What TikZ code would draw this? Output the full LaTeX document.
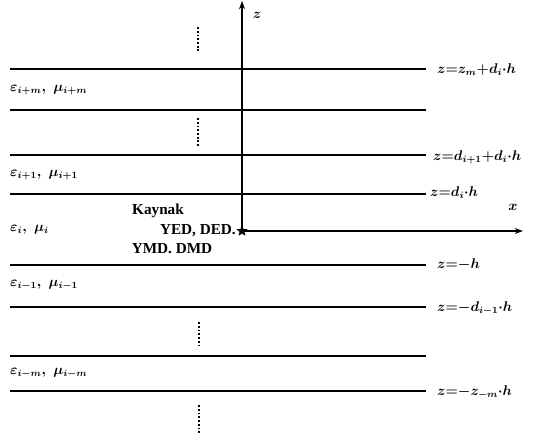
\documentclass[tikz,border=0pt]{standalone}
\usepackage{amsmath, amssymb}
\usepackage{fontspec}
\newfontfamily\srcfont{Liberation Serif}
\usetikzlibrary{
  arrows.meta,
  positioning,
  shapes.geometric,
}

\begin{document}
\begin{tikzpicture}[
    x=0.03cm, y=-0.03cm,
    layer/.style={draw=black, line width=1.5pt},
    axis/.style={draw=black, line width=1.6pt, -{Stealth[length=7pt, width=5pt]}},
    vdots/.style={draw=black, line width=1.6pt, dash pattern=on 1.6pt off 1.6pt},
    rlabel/.style={anchor=west, inner sep=0pt, font=\large\boldmath},
    llabel/.style={anchor=west, inner sep=0pt, font=\large\boldmath},
    srctext/.style={inner sep=0pt, font=\fontsize{13}{15}\selectfont\srcfont\bfseries},
  ]
  \useasboundingbox (0,0) rectangle (534,441);

  % layer boundaries
  \foreach \yy in {69,110,155,194,265,307,356,391}
    \draw[layer] (10,\yy) -- (426,\yy);

  % axes
  \node[star, star points=5, star point ratio=2.3, fill=black, inner sep=0pt,
        minimum size=10pt] (src) at (242,231) {};
  \coordinate (ztop) at (242,1);
  \coordinate (xend) at (523,231);
  \draw[axis] (src.center) -- (ztop);
  \draw[axis] (src.center) -- (xend);
  \node[font=\large\boldmath] (zlab) at (257,15) {$z$};
  \node[font=\large\boldmath] (xlab) at (513,207) {$x$};

  % skipped layers
  \draw[vdots] (198,27) -- (198,53);
  \draw[vdots] (198,118) -- (198,147);
  \draw[vdots] (199,322) -- (199,348);
  \draw[vdots] (199,405) -- (199,433);

  % boundary labels
  \node[rlabel] (b1) at (437,70)  {$z{=}z_m{+}d_i{\cdot}h$};
  \node[rlabel] (b3) at (433,157) {$z{=}d_{i+1}{+}d_i{\cdot}h$};
  \node[rlabel] (b4) at (430,193) {$z{=}d_i{\cdot}h$};
  \node[rlabel] (b6) at (437,265) {$z{=}{-}h$};
  \node[rlabel] (b7) at (437,308) {$z{=}{-}d_{i-1}{\cdot}h$};
  \node[rlabel] (b9) at (437,392) {$z{=}{-}z_{-m}{\cdot}h$};

  % layer parameters
  \node[llabel] (p1) at (10,90)  {$\varepsilon_{i+m},\ \mu_{i+m}$};
  \node[llabel] (p2) at (10,175) {$\varepsilon_{i+1},\ \mu_{i+1}$};
  \node[llabel] (p3) at (10,230) {$\varepsilon_{i},\ \mu_{i}$};
  \node[llabel] (p4) at (10,285) {$\varepsilon_{i-1},\ \mu_{i-1}$};
  \node[llabel] (p5) at (10,373) {$\varepsilon_{i-m},\ \mu_{i-m}$};

  % source
  \node[srctext] (k1) at (158,211) {Kaynak};
  \node[srctext, anchor=east] (k2) at (236,231) {YED, DED.};
  \node[srctext] (k3) at (172,249) {YMD. DMD};
\end{tikzpicture}
\end{document}
